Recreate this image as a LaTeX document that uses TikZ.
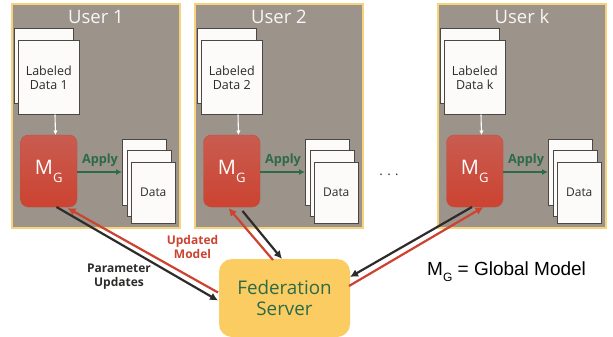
\documentclass[tikz,border=0pt]{standalone}
\usepackage{fontspec}
\setmainfont{Open Sans}
\newfontfamily\arialfont{Liberation Sans}
\usetikzlibrary{arrows.meta}
\definecolor{userfill}{HTML}{9C938B}
\definecolor{gold}{HTML}{F6D27A}
\definecolor{serverfill}{HTML}{FACC62}
\definecolor{greenink}{HTML}{2C6B48}
\definecolor{redink}{HTML}{CC4331}
\definecolor{redtop}{HTML}{C95C50}
\definecolor{darkink}{HTML}{2E2C2A}
\definecolor{paperedge}{HTML}{4A4744}
\definecolor{paper}{HTML}{FCFBFA}
\tikzset{
  at px/.style={anchor=north west,inner sep=0pt,outer sep=0pt},
  userbox/.style={at px,draw=gold,line width=1.3pt,fill=userfill,minimum width=168pt,minimum height=224pt},
  usertitle/.style={inner sep=0pt,text=white!92!userfill,font=\fontsize{18.5}{22}\selectfont},
  sheet/.style={at px,draw=paperedge,line width=1pt,fill=paper,text=darkink},
  bigsheet/.style={sheet,minimum width=60.5pt,minimum height=74pt,align=center,font=\fontsize{12.5}{14.2}\selectfont},
  backsheet/.style={sheet,minimum width=58.5pt,minimum height=75pt},
  datasheet/.style={sheet,minimum width=44pt,minimum height=66pt},
  datafront/.style={sheet,minimum width=43.5pt,minimum height=61.5pt,font=\fontsize{12}{14}\selectfont},
  model/.style={at px,rounded corners=8pt,top color=redtop,bottom color=redink,draw=redink!90!userfill,line width=0.4pt,minimum width=56.5pt,minimum height=72pt,text=white,font=\fontsize{20}{22}\selectfont},
  applyarrow/.style={draw=greenink,line width=2pt,-{Latex[length=6pt,width=6pt]}},
  applylabel/.style={inner sep=0pt,text=greenink,font=\fontsize{12.7}{14}\selectfont\bfseries},
  feedarrow/.style={draw=white,line width=1.1pt,-{Latex[length=4.5pt,width=4.5pt]}},
  uparrow/.style={draw=darkink,line width=2.2pt,-{Latex[length=8pt,width=8pt]}},
  downarrow/.style={draw=redink,line width=2.2pt,-{Latex[length=8pt,width=8pt]}},
  server/.style={at px,rounded corners=13pt,fill=serverfill,minimum width=131pt,minimum height=78pt,align=center,text=greenink,font=\fontsize{18.8}{20.5}\selectfont},
  note/.style={inner sep=0pt,align=center,font=\fontsize{12}{14.5}\selectfont\bfseries},
}
\begin{document}
\begin{tikzpicture}[x=1pt,y=-1pt]
\clip (0,0) rectangle (613,337);
\fill[white] (0,0) rectangle (613,337);
\foreach \n/\ox/\lab in {1/12/1,2/195/2,3/438/k}{
  \node[userbox] (u\n) at (\ox,4) {};
  \node[usertitle] (t\n) at (\ox+84,17) {User \lab};
  \node[backsheet] (lb\n) at (\ox+2.5,28.5) {};
  \node[bigsheet] (l\n) at (\ox+6.5,40.5) {Labeled\\Data \lab};
  \node[model] (m\n) at (\ox+8.5,135) {M\raisebox{-0.4em}{\fontsize{13}{13}\selectfont G}};
  \node[datasheet] (db\n) at (\ox+110,139) {};
  \node[datasheet] (dm\n) at (\ox+115,150) {};
  \node[datafront] (d\n) at (\ox+119.5,162) {Data};
  \node[applylabel] (a\n) at (\ox+88,160) {Apply};
  \draw[feedarrow] ([xshift=6.25pt]l\n.south) -- ([xshift=6.75pt]m\n.north);
  \draw[applyarrow] ([yshift=-1pt]m\n.east) -- (db\n.west);
}
\node[server] (fs) at (219,259) {Federation\\Server};
\draw[uparrow] ([shift={(36,0)}]m1.south west) -- ([shift={(-1,41.5)}]fs.north west);
\draw[downarrow] ([shift={(-1,33.5)}]fs.north west) -- ([shift={(47,1)}]m1.south west);
\draw[downarrow] ([shift={(54,1)}]fs.north west) -- ([shift={(25,1)}]m2.south west);
\draw[uparrow] ([shift={(39,4)}]m2.south west) -- ([shift={(63,0)}]fs.north west);
\draw[uparrow] ([shift={(25.5,0)}]m3.south west) -- ([shift={(131,18)}]fs.north west);
\draw[downarrow] ([shift={(130,27)}]fs.north west) -- ([shift={(37,0)}]m3.south west);
\node[note,text=redink] (upd) at (192.5,247) {Updated\\Model};
\node[note,text=darkink] (par) at (119,276.5) {Parameter\\Updates};
\node[inner sep=0pt,text=darkink,font=\fontsize{13}{15}\selectfont] (dots) at (389,175) {. . .};
\node[inner sep=0pt,anchor=west,text=black,font=\arialfont\fontsize{19}{20}\selectfont] (key) at (427,272) {M\raisebox{-0.3em}{\fontsize{12}{12}\selectfont G} = Global Model};
\end{tikzpicture}
\end{document}
